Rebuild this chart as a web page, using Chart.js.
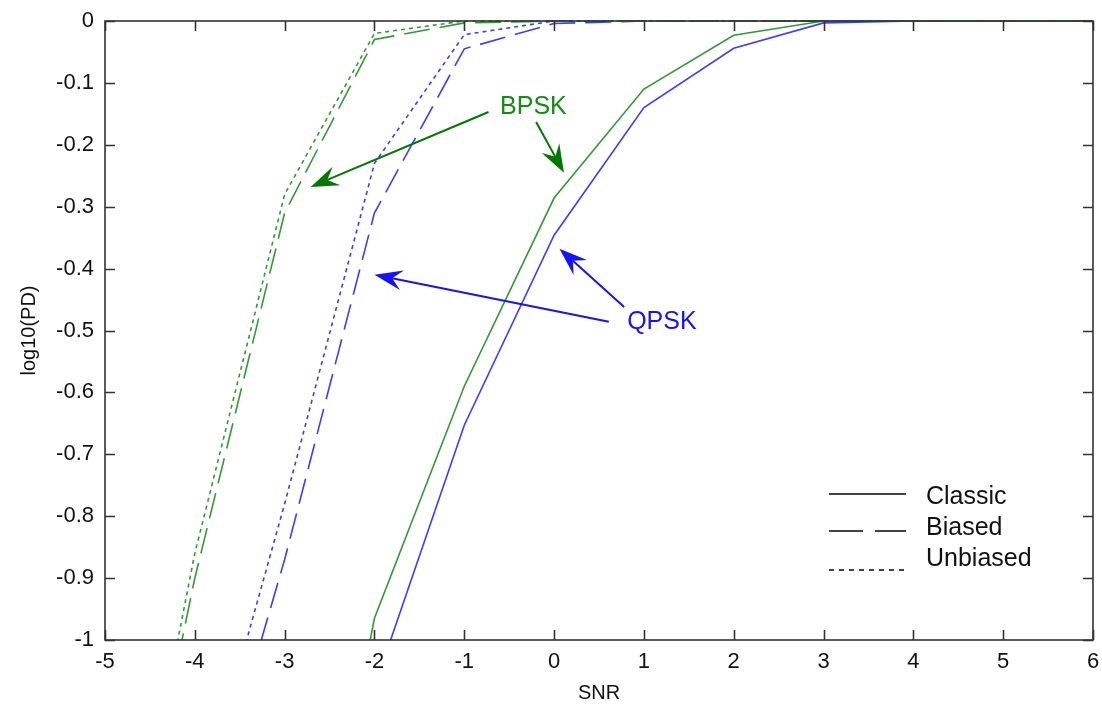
<!DOCTYPE html>
<html>
<head>
<meta charset="utf-8">
<script src="https://cdn.jsdelivr.net/npm/chart.js@4/dist/chart.umd.min.js"></script>
<style>
  html, body { margin: 0; padding: 0; background: #fff; }
  #wrap { width: 1102px; height: 709px; }
</style>
</head>
<body>
<div id="wrap"><canvas id="chart" width="1102" height="709"></canvas></div>
<script>
(function () {
  'use strict';

  // ---------------------------------------------------------------------------
  // Data
  // ---------------------------------------------------------------------------

  var snr = [-5, -4, -3, -2, -1, 0, 1, 2, 3, 4, 5, 6];

  var bpskClassic   = [-3.2, -2.45, -1.7, -0.965, -0.59, -0.286, -0.11, -0.023, 0, 0, 0, 0];
  var bpskBiased    = [-1.6, -0.9, -0.31, -0.03, -0.003, 0, 0, 0, 0, 0, 0, 0];
  var bpskUnbiased  = [-1.6, -0.86, -0.28, -0.02, 0, 0, 0, 0, 0, 0, 0, 0];

  var qpskClassic   = [-2.1, -1.6, -1.5, -1.076, -0.653, -0.346, -0.14, -0.044, -0.003, 0, 0, 0];
  var qpskBiased    = [-1.9, -1.37, -0.87, -0.31, -0.045, -0.004, 0, 0, 0, 0, 0, 0];
  var qpskUnbiased  = [-1.8, -1.3, -0.78, -0.23, -0.022, 0, 0, 0, 0, 0, 0, 0];

  var xTicks = [-5, -4, -3, -2, -1, 0, 1, 2, 3, 4, 5, 6];
  var yTicks = [0, -0.1, -0.2, -0.3, -0.4, -0.5, -0.6, -0.7, -0.8, -0.9, -1];

  var legendLabels = ['Classic', 'Biased', 'Unbiased'];

  // annotation arrows: [fromX, fromY, toX, toY] in data units
  var bpskArrows = [[-0.73, -0.147, -2.71, -0.268], [-0.2, -0.163, 0.11, -0.245]];
  var qpskArrows = [[0.61, -0.486, -2.0, -0.41], [0.78, -0.462, 0.06, -0.368]];
  var bpskLabelAt = [-0.23, -0.139];
  var qpskLabelAt = [1.2, -0.486];

  // ---------------------------------------------------------------------------
  // Styles
  // ---------------------------------------------------------------------------

  var GREEN = 'rgb(52,152,52)';
  var GREEN_DARK = 'rgb(0,120,0)';
  var BLUE = 'rgb(60,60,255)';
  var BLUE_DARK = 'rgb(20,20,245)';
  var AXIS = '#333';
  var TEXT = '#111';
  var FONT = '"Liberation Sans", Arial, sans-serif';

  var DASH = { classic: [], biased: [26, 10], unbiased: [4, 4] };

  function pts(ys) {
    return snr.map(function (x, i) { return { x: x, y: ys[i] }; });
  }

  function series(label, ys, colour, dash) {
    return {
      label: label,
      data: pts(ys),
      borderColor: colour,
      borderWidth: 1.6,
      borderDash: dash,
      pointRadius: 0,
      fill: false,
      tension: 0,
      clip: { left: 0, right: 2, top: 2, bottom: 0 }
    };
  }

  function drawArrow(ctx, x1, y1, x2, y2, colour) {
    var ang = Math.atan2(y2 - y1, x2 - x1);
    var len = 28, half = 10, notch = 18;
    var cos = Math.cos(ang), sin = Math.sin(ang);
    ctx.save();
    ctx.strokeStyle = colour;
    ctx.fillStyle = colour;
    ctx.lineWidth = 2;
    ctx.beginPath();
    ctx.moveTo(x1, y1);
    ctx.lineTo(x2 - cos * notch, y2 - sin * notch);
    ctx.stroke();
    ctx.beginPath();
    ctx.moveTo(x2, y2);
    ctx.lineTo(x2 - cos * len - sin * half, y2 - sin * len + cos * half);
    ctx.lineTo(x2 - cos * notch, y2 - sin * notch);
    ctx.lineTo(x2 - cos * len + sin * half, y2 - sin * len - cos * half);
    ctx.closePath();
    ctx.fill();
    ctx.restore();
  }

  // frame, inward ticks, legend box and annotations
  var decorations = {
    id: 'decorations',
    afterDatasetsDraw: function (chart) {
      var ctx = chart.ctx;
      var a = chart.chartArea;
      var xs = chart.scales.x, ys = chart.scales.y;

      ctx.save();
      ctx.strokeStyle = AXIS;
      ctx.lineWidth = 1.6;
      ctx.setLineDash([]);
      ctx.strokeRect(a.left, a.top, a.right - a.left, a.bottom - a.top);

      var tl = 10;
      ctx.beginPath();
      xTicks.forEach(function (v) {
        var px = Math.round(xs.getPixelForValue(v)) + 0.5;
        ctx.moveTo(px, a.bottom); ctx.lineTo(px, a.bottom - tl);
        ctx.moveTo(px, a.top); ctx.lineTo(px, a.top + tl);
      });
      yTicks.forEach(function (v) {
        var py = Math.round(ys.getPixelForValue(v)) + 0.5;
        ctx.moveTo(a.left, py); ctx.lineTo(a.left + tl, py);
        ctx.moveTo(a.right, py); ctx.lineTo(a.right - tl, py);
      });
      ctx.stroke();

      // legend
      var lx0 = 829, lx1 = 906, tx = 926;
      var rows = [497, 528, 559];
      var lineRows = [494, 531, 570];
      ctx.strokeStyle = '#444';
      ctx.lineWidth = 1.8;
      legendLabels.forEach(function (lbl, i) {
        ctx.setLineDash(i === 1 ? [34, 12] : (i === 2 ? [5, 5] : []));
        ctx.beginPath();
        ctx.moveTo(lx0, lineRows[i]);
        ctx.lineTo(lx1, lineRows[i]);
        ctx.stroke();
      });
      ctx.setLineDash([]);
      ctx.fillStyle = TEXT;
      ctx.font = '25px ' + FONT;
      ctx.textAlign = 'left';
      ctx.textBaseline = 'middle';
      legendLabels.forEach(function (lbl, i) { ctx.fillText(lbl, tx, rows[i]); });

      // annotations
      function P(v) { return [xs.getPixelForValue(v[0]), ys.getPixelForValue(v[1])]; }
      bpskArrows.forEach(function (r) {
        var f = P([r[0], r[1]]), t = P([r[2], r[3]]);
        drawArrow(ctx, f[0], f[1], t[0], t[1], GREEN_DARK);
      });
      qpskArrows.forEach(function (r) {
        var f = P([r[0], r[1]]), t = P([r[2], r[3]]);
        drawArrow(ctx, f[0], f[1], t[0], t[1], BLUE_DARK);
      });
      ctx.textAlign = 'center';
      ctx.font = '25px ' + FONT;
      var b = P(bpskLabelAt);
      ctx.fillStyle = 'rgb(20,140,20)';
      ctx.fillText('BPSK', b[0], b[1]);
      var q = P(qpskLabelAt);
      ctx.fillStyle = BLUE_DARK;
      ctx.fillText('QPSK', q[0], q[1]);
      ctx.restore();
    }
  };

  new Chart(document.getElementById('chart'), {
    type: 'line',
    data: {
      datasets: [
        series('BPSK Classic', bpskClassic, GREEN, DASH.classic),
        series('BPSK Biased', bpskBiased, GREEN, DASH.biased),
        series('BPSK Unbiased', bpskUnbiased, GREEN, DASH.unbiased),
        series('QPSK Classic', qpskClassic, BLUE, DASH.classic),
        series('QPSK Biased', qpskBiased, BLUE, DASH.biased),
        series('QPSK Unbiased', qpskUnbiased, BLUE, DASH.unbiased)
      ]
    },
    options: {
      responsive: false,
      animation: false,
      layout: { padding: { left: 0, right: 9, top: 21, bottom: 0 } },
      plugins: {
        legend: { display: false },
        tooltip: { enabled: false }
      },
      scales: {
        x: {
          type: 'linear',
          min: -5, max: 6,
          afterBuildTicks: function (s) { s.ticks = xTicks.map(function (v) { return { value: v }; }); },
          afterFit: function (s) { s.height = 69; s.paddingLeft = 0; s.paddingRight = 0; },
          grid: { display: false, drawTicks: false },
          border: { display: false },
          ticks: { color: TEXT, font: { family: FONT, size: 22 }, padding: 9, maxRotation: 0, autoSkip: false },
          title: { display: true, text: 'SNR', color: TEXT, font: { family: FONT, size: 20 }, padding: { top: 0, bottom: 4 } }
        },
        y: {
          type: 'linear',
          min: -1, max: 0,
          afterBuildTicks: function (s) { s.ticks = yTicks.map(function (v) { return { value: v }; }); },
          afterFit: function (s) { s.width = 105; s.paddingTop = 0; s.paddingBottom = 0; },
          grid: { display: false, drawTicks: false },
          border: { display: false },
          ticks: { color: TEXT, font: { family: FONT, size: 22 }, padding: 11, autoSkip: false,
                   callback: function (v) { return String(Math.round(v * 10) / 10); } },
          title: { display: true, text: 'log10(PD)', color: TEXT, font: { family: FONT, size: 20 }, padding: { top: 17, bottom: 4 } }
        }
      }
    },
    plugins: [decorations]
  });
})();
</script>
</body>
</html>
